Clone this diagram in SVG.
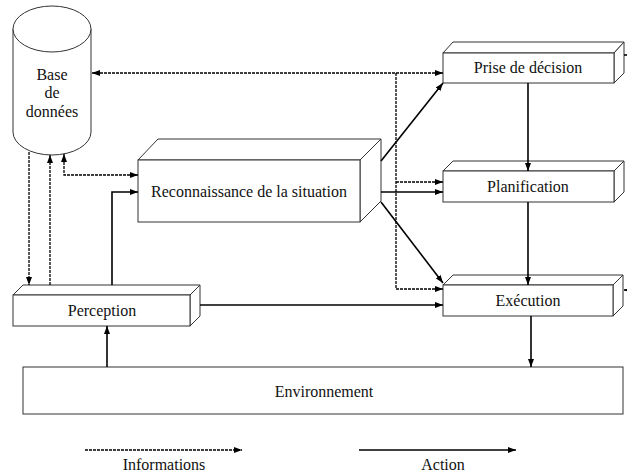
<svg xmlns="http://www.w3.org/2000/svg" width="627" height="475" viewBox="0 0 627 475">
<style>
.box{fill:#fff;stroke:#333;stroke-width:1}
.lbl{font-family:"Liberation Serif","Times New Roman",serif;font-size:16px;fill:#111;text-anchor:middle}
.act{fill:none;stroke:#000;stroke-width:1.6}
.inf{fill:none;stroke:#000;stroke-width:1.3;stroke-dasharray:3 1}
</style>
<defs>
<marker id="ah" viewBox="0 0 8 6" refX="8" refY="3" markerWidth="8" markerHeight="6" markerUnits="userSpaceOnUse" orient="auto-start-reverse">
<path d="M0,0 L8,3 L0,6 z" fill="#000"/>
</marker>
</defs>
<rect width="627" height="475" fill="#fff"/>

<g id="base-de-donnees">
<path class="box" d="M13,29 V132 A39,23 0 0 0 91,132 V29"/>
<ellipse class="box" cx="52" cy="29" rx="39" ry="23"/>
<text class="lbl" x="52" y="80">Base</text>
<text class="lbl" x="52" y="98">de</text>
<text class="lbl" x="52" y="117">données</text>
</g>

<g id="reconnaissance">
<path class="box" d="M138,160 L158,139 H381 L360,160 Z"/>
<path class="box" d="M360,160 L381,139 V201 L360,222 Z"/>
<rect class="box" x="138" y="160" width="222" height="62"/>
<text class="lbl" x="249" y="197">Reconnaissance de la situation</text>
</g>

<g id="prise-de-decision">
<path class="box" d="M443,53 L453,42 H624 L614,53 Z"/>
<path class="box" d="M614,53 L624,42 V73 L614,83 Z"/>
<rect class="box" x="443" y="53" width="171" height="30"/>
<text class="lbl" x="528" y="73">Prise de décision</text>
</g>

<g id="planification">
<path class="box" d="M443,171 L453,161 H624 L614,171 Z"/>
<path class="box" d="M614,171 L624,161 V192 L614,202 Z"/>
<rect class="box" x="443" y="171" width="171" height="31"/>
<text class="lbl" x="528" y="192">Planification</text>
</g>

<g id="execution">
<path class="box" d="M443,285 L453,275 H623 L613,285 Z"/>
<path class="box" d="M613,285 L623,275 V306 L613,316 Z"/>
<rect class="box" x="443" y="285" width="170" height="31"/>
<text class="lbl" x="528" y="306">Exécution</text>
</g>

<g id="perception">
<path class="box" d="M13,295 L23,285 H200 L190,295 Z"/>
<path class="box" d="M190,295 L200,285 V316 L190,326 Z"/>
<rect class="box" x="13" y="295" width="177" height="31"/>
<text class="lbl" x="102" y="316">Perception</text>
</g>

<g id="environnement">
<rect class="box" x="23" y="367" width="600" height="47"/>
<text class="lbl" x="324" y="397">Environnement</text>
</g>

<g id="connectors">
<!-- information (dotted) -->
<path class="inf" d="M92,73 H443" marker-start="url(#ah)" marker-end="url(#ah)"/>
<path class="inf" d="M396,73 V289 H443" marker-end="url(#ah)"/>
<path class="inf" d="M396,182 H443" marker-end="url(#ah)"/>
<path class="inf" d="M29,152 V285" marker-end="url(#ah)"/>
<path class="inf" d="M50,285 V155" marker-end="url(#ah)"/>
<path class="inf" d="M64,154 V175 H138" marker-start="url(#ah)" marker-end="url(#ah)"/>
<!-- action (solid) -->
<path class="act" d="M112,285 V192 H138" marker-end="url(#ah)"/>
<path class="act" d="M381,192 H443" marker-end="url(#ah)"/>
<path class="act" d="M381,161 L443,83" marker-end="url(#ah)"/>
<path class="act" d="M381,202 L443,283" marker-end="url(#ah)"/>
<path class="act" d="M200,305 H443" marker-end="url(#ah)"/>
<path class="act" d="M528,83 V171" marker-end="url(#ah)"/>
<path class="act" d="M528,202 V285" marker-end="url(#ah)"/>
<path class="act" d="M531,316 V367" marker-end="url(#ah)"/>
<path class="act" d="M107,367 V326" marker-end="url(#ah)"/>
<path class="act" d="M624,55 H627"/>
<path class="act" d="M627,290 H624" marker-end="url(#ah)"/>
</g>

<g id="legende">
<path class="inf" d="M85,450 H242" marker-end="url(#ah)"/>
<text class="lbl" x="164" y="470">Informations</text>
<path class="act" d="M359,450 H516" marker-end="url(#ah)"/>
<text class="lbl" x="443" y="470">Action</text>
</g>
</svg>
